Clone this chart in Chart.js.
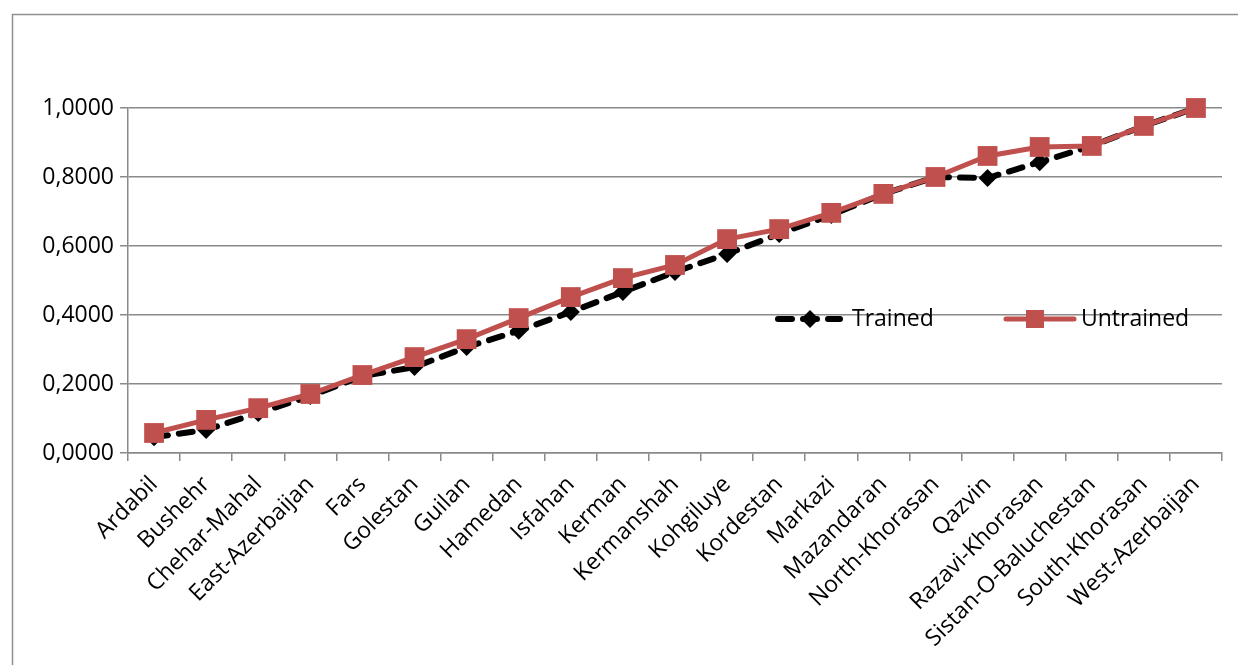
<!DOCTYPE html>
<html>
<head>
<meta charset="utf-8">
<script src="https://cdn.jsdelivr.net/npm/chart.js@4/dist/chart.umd.min.js"></script>
<style>
  html, body { margin: 0; padding: 0; background: #fff; }
  #wrap { position: relative; width: 1238px; height: 665px; }
</style>
</head>
<body>
<div id="wrap"><canvas id="c" width="1238" height="665"></canvas></div>
<script>
// Provinces along the x axis
const provinces = [
  'Ardabil', 'Bushehr', 'Chehar-Mahal', 'East-Azerbaijan', 'Fars', 'Golestan',
  'Guilan', 'Hamedan', 'Isfahan', 'Kerman', 'Kermanshah', 'Kohgiluye',
  'Kordestan', 'Markazi', 'Mazandaran', 'North-Khorasan', 'Qazvin',
  'Razavi-Khorasan', 'Sistan-O-Baluchestan', 'South-Khorasan', 'West-Azerbaijan'
];

// Cumulative scores per province
const trained = [
  0.046, 0.067, 0.116, 0.165, 0.223, 0.249, 0.307, 0.354, 0.409, 0.467,
  0.525, 0.577, 0.635, 0.690, 0.751, 0.800, 0.797, 0.843, 0.890, 0.948, 1.000
];
const untrained = [
  0.058, 0.096, 0.130, 0.171, 0.226, 0.278, 0.330, 0.391, 0.452, 0.507,
  0.545, 0.620, 0.649, 0.696, 0.751, 0.800, 0.861, 0.887, 0.890, 0.948, 1.000
];

// Value axis ticks
const yTicks = [0, 0.2, 0.4, 0.6, 0.8, 1.0];

const FONT = '"Open Sans", "Noto Sans", sans-serif';
const FONT_SIZE = 23;
const GRID = '#8a8a8a';
const RED = '#C0504D';

// Outer frame and the in-plot legend
const framePlugin = {
  id: 'frame',
  afterDraw(chart) {
    const ctx = chart.ctx;
    ctx.save();
    ctx.strokeStyle = '#8f8f8f';
    ctx.lineWidth = 1.5;
    ctx.beginPath();
    ctx.moveTo(12.5, 665);
    ctx.lineTo(12.5, 14.5);
    ctx.lineTo(1238, 14.5);
    ctx.stroke();

    // legend entries
    const y = 319;
    ctx.font = FONT_SIZE + 'px ' + FONT;
    ctx.textBaseline = 'middle';
    ctx.fillStyle = '#000';

    // Trained
    ctx.strokeStyle = '#000';
    ctx.lineWidth = 6;
    ctx.lineCap = 'round';
    ctx.setLineDash([14, 11]);
    ctx.beginPath();
    ctx.moveTo(778, y); ctx.lineTo(840, y);
    ctx.stroke();
    ctx.setLineDash([]);
    ctx.beginPath();
    ctx.moveTo(810, y - 9); ctx.lineTo(819, y); ctx.lineTo(810, y + 9); ctx.lineTo(801, y);
    ctx.closePath();
    ctx.fill();
    ctx.fillText(chart.data.datasets[0].label, 852, y);

    // Untrained
    ctx.strokeStyle = RED;
    ctx.fillStyle = RED;
    ctx.lineWidth = 5;
    ctx.beginPath();
    ctx.moveTo(1006, y); ctx.lineTo(1074, y);
    ctx.stroke();
    ctx.fillRect(1035 - 9, y - 9, 18, 18);
    ctx.fillStyle = '#000';
    ctx.fillText(chart.data.datasets[1].label, 1081, y);
    ctx.restore();
  }
};

new Chart(document.getElementById('c'), {
  type: 'line',
  data: {
    labels: provinces,
    datasets: [
      {
        label: 'Trained',
        data: trained,
        order: 1,
        clip: false,
        borderColor: '#000',
        backgroundColor: '#000',
        borderWidth: 6,
        borderDash: [14, 11],
        borderCapStyle: 'round',
        pointStyle: 'rectRot',
        pointRadius: 9,
        pointBorderWidth: 0,
        tension: 0
      },
      {
        label: 'Untrained',
        data: untrained,
        order: 0,
        clip: false,
        borderColor: RED,
        backgroundColor: RED,
        borderWidth: 5,
        pointStyle: 'rect',
        pointRadius: 14,
        pointBorderWidth: 0,
        tension: 0
      }
    ]
  },
  options: {
    responsive: false,
    animation: false,
    devicePixelRatio: 1,
    layout: { padding: { left: 0, right: 16, top: 108, bottom: 0 } },
    plugins: {
      legend: { display: false },
      tooltip: { enabled: false }
    },
    scales: {
      x: {
        offset: true,
        grid: {
          offset: true,
          drawOnChartArea: false,
          drawTicks: true,
          tickLength: 8,
          color: GRID,
          lineWidth: 1.5
        },
        border: { color: GRID, width: 1.5 },
        ticks: {
          color: '#000',
          font: { family: FONT, size: FONT_SIZE },
          minRotation: 45,
          maxRotation: 45,
          autoSkip: false,
          padding: 10
        },
        afterFit(scale) { scale.height = 212; }
      },
      y: {
        min: 0,
        max: 1,
        afterBuildTicks(scale) { scale.ticks = yTicks.map(v => ({ value: v })); },
        grid: {
          color: GRID,
          lineWidth: 1.5,
          tickLength: 8
        },
        border: { color: GRID, width: 1.5 },
        ticks: {
          color: '#000',
          font: { family: FONT, size: FONT_SIZE },
          padding: 6,
          callback: v => v.toFixed(4).replace('.', ',')
        },
        afterFit(scale) { scale.width = 128; }
      }
    }
  },
  plugins: [framePlugin]
});
</script>
</body>
</html>
